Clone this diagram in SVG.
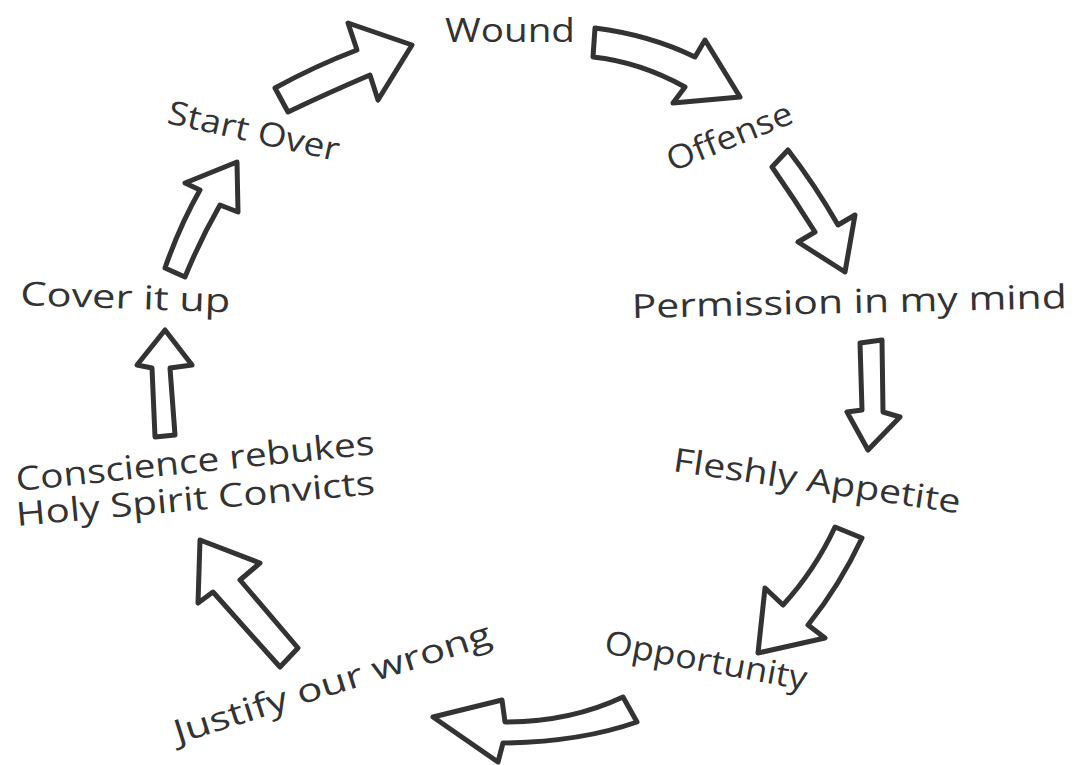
<svg xmlns="http://www.w3.org/2000/svg" width="1076" height="765" viewBox="0 0 1076 765">
<style>
.lbl{font-family:"Open Sans","DejaVu Sans",sans-serif;font-size:33px;fill:#333;}
.arr{fill:#fff;stroke:#333;stroke-width:5;stroke-linejoin:round;stroke-linecap:round;}
</style>
<rect width="1076" height="765" fill="#fff"/>
<g id="connectors">
<path class="arr" d="M275,88 Q315,66 357,50 L348,23 L412,45 L378,100 L370,75 Q330,92 288,112 Z"/>
<path class="arr" d="M595,28 Q650,35 695,57 L705,40 L740,97 L673,103 L685,87 Q640,62 593,57 Z"/>
<path class="arr" d="M788,150 Q815,185 838,225 L855,215 L845,272 L798,242 L815,232 Q795,200 772,167 Z"/>
<path class="arr" d="M860,343 L882,340 L883,412 L900,417 L868,450 L847,412 L862,410 Z"/>
<path class="arr" d="M835,527 L862,538 Q840,585 808,625 L825,638 L758,653 L765,588 L783,605 Q815,570 835,527 Z"/>
<path class="arr" d="M623,697 L637,722 Q580,742 503,743 L498,762 L433,717 L502,700 L505,722 Q570,722 623,697 Z"/>
<path class="arr" d="M298,648 L280,667 L213,592 L198,603 L200,540 L260,563 L240,580 Z"/>
<path class="arr" d="M155,437 L175,435 L170,368 L192,365 L165,330 L137,365 L152,368 Z"/>
<path class="arr" d="M165,268 L185,277 Q200,240 220,205 L238,212 L237,162 L185,183 L200,190 Q180,225 165,268 Z"/>
</g>
<g id="wound"><text class="lbl" x="445" y="42" textLength="130" lengthAdjust="spacingAndGlyphs">Wound</text></g>
<g id="offense"><text class="lbl" transform="translate(672,172) rotate(-22)" textLength="133" lengthAdjust="spacingAndGlyphs">Offense</text></g>
<g id="permission"><text class="lbl" transform="translate(632,318) rotate(-1.3)" textLength="435" lengthAdjust="spacingAndGlyphs">Permission in my mind</text></g>
<g id="fleshly"><text class="lbl" transform="translate(672,471) rotate(8.4)" textLength="290" lengthAdjust="spacingAndGlyphs">Fleshly Appetite</text></g>
<g id="opportunity"><text class="lbl" transform="translate(603,653) rotate(10.4)" textLength="205" lengthAdjust="spacingAndGlyphs">Opportunity</text></g>
<g id="justify"><text class="lbl" transform="translate(178,744) rotate(-17.6)" textLength="331" lengthAdjust="spacingAndGlyphs">Justify our wrong</text></g>
<g id="conscience">
<text class="lbl" transform="translate(17,491) rotate(-5.9)" textLength="360" lengthAdjust="spacingAndGlyphs">Conscience rebukes</text>
<text class="lbl" transform="translate(17,526) rotate(-5.1)" textLength="360" lengthAdjust="spacingAndGlyphs">Holy Spirit Convicts</text>
</g>
<g id="cover"><text class="lbl" transform="translate(20,305) rotate(2)" textLength="210" lengthAdjust="spacingAndGlyphs">Cover it up</text></g>
<g id="startover"><text class="lbl" transform="translate(166,123) rotate(12.6)" textLength="175" lengthAdjust="spacingAndGlyphs">Start Over</text></g>
</svg>
